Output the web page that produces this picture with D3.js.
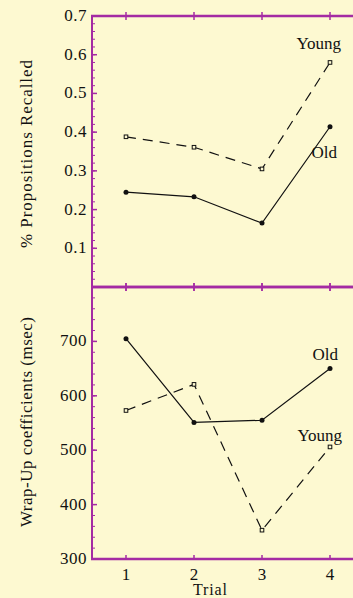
<!DOCTYPE html>
<html>
<head>
<meta charset="utf-8">
<script src="https://cdn.jsdelivr.net/npm/d3@7"></script>
<style>
  body { margin: 0; background: #fdf9d1; }
  svg { display: block; }
  text { font-family: "Liberation Serif", "Times New Roman", serif; fill: #111; }
</style>
</head>
<body>
<script>
  // data
  const trials = [1, 2, 3, 4];
  const recallYoung = [0.388, 0.361, 0.305, 0.58];
  const recallOld = [0.245, 0.233, 0.165, 0.414];
  const wrapOld = [705, 551, 555, 650];
  const wrapYoung = [573, 621, 353, 506];
  const recallTicks = [0.1, 0.2, 0.3, 0.4, 0.5, 0.6, 0.7];
  const wrapTicks = [300, 400, 500, 600, 700];

  const width = 353, height = 598;
  const purple = "#a42ba3";

  const svg = d3.select("body").append("svg")
    .attr("width", width)
    .attr("height", height);

  svg.append("rect").attr("width", width).attr("height", height).attr("fill", "#fdf9d1");

  const x = d3.scaleLinear().domain([0.5, 4.5]).range([92, 364]);
  const yTop = d3.scaleLinear().domain([0, 0.7]).range([287, 16]);
  const yBot = d3.scaleLinear().domain([300, 800]).range([559, 287]);

  function drawPanel(y, minorStep, labels, fmt, drawBottomTicks) {
    const [y0, y1] = y.domain();
    const g = svg.append("g");
    // minor ticks on the left axis
    const minors = d3.range(y0, y1 + minorStep / 2, minorStep);
    g.selectAll(".minor").data(minors).enter().append("line")
      .attr("x1", 92).attr("x2", 95)
      .attr("y1", d => y(d)).attr("y2", d => y(d))
      .attr("stroke", purple).attr("stroke-width", 1);
    // major ticks + labels
    g.selectAll(".major").data(labels).enter().append("line")
      .attr("x1", 92).attr("x2", 97)
      .attr("y1", d => y(d)).attr("y2", d => y(d))
      .attr("stroke", purple).attr("stroke-width", 1.5);
    g.selectAll(".lab").data(labels).enter().append("text")
      .attr("x", 87).attr("y", d => y(d) + 5)
      .attr("text-anchor", "end")
      .style("font-size", "17px")
      .style("letter-spacing", "0.5px")
      .text(fmt);
    // x ticks on top and bottom edges
    const yt = y.range()[1], yb = y.range()[0];
    g.selectAll(".xt").data(trials).enter().append("line")
      .attr("x1", d => x(d)).attr("x2", d => x(d))
      .attr("y1", yt - 4).attr("y2", yt + 4)
      .attr("stroke", purple).attr("stroke-width", 1.5);
    g.selectAll(".xb").data(trials).enter().append("line")
      .attr("x1", d => x(d)).attr("x2", d => x(d))
      .attr("y1", yb - 4).attr("y2", yb + (drawBottomTicks ? 4 : 0))
      .attr("stroke", purple).attr("stroke-width", 1.5);
    // frame
    g.append("line").attr("x1", 91).attr("x2", width).attr("y1", yt).attr("y2", yt)
      .attr("stroke", purple).attr("stroke-width", 2.5);
    g.append("line").attr("x1", 91).attr("x2", width).attr("y1", yb).attr("y2", yb)
      .attr("stroke", purple).attr("stroke-width", 2.5);
    g.append("line").attr("x1", 92).attr("x2", 92).attr("y1", yt).attr("y2", yb)
      .attr("stroke", purple).attr("stroke-width", 2);
  }

  drawPanel(yTop, 0.02, recallTicks, d => d.toFixed(1), true);
  drawPanel(yBot, 20, wrapTicks, d => d, false);

  function drawSeries(values, y, dashed) {
    const pts = trials.map((t, i) => [x(t), y(values[i])]);
    svg.append("path")
      .attr("d", d3.line()(pts))
      .attr("fill", "none")
      .attr("stroke", "#111")
      .attr("stroke-width", 1.2)
      .attr("stroke-dasharray", dashed ? "10,7" : null);
    if (dashed) {
      svg.selectAll(null).data(pts).enter().append("rect")
        .attr("x", d => d[0] - 1.8).attr("y", d => d[1] - 1.8)
        .attr("width", 3.6).attr("height", 3.6)
        .attr("fill", "#fdf9d1").attr("stroke", "#111").attr("stroke-width", 1);
    } else {
      svg.selectAll(null).data(pts).enter().append("circle")
        .attr("cx", d => d[0]).attr("cy", d => d[1]).attr("r", 2.5)
        .attr("fill", "#111");
    }
  }

  drawSeries(recallYoung, yTop, true);
  drawSeries(recallOld, yTop, false);
  drawSeries(wrapYoung, yBot, true);
  drawSeries(wrapOld, yBot, false);

  // series labels
  const lab = (t, xx, yy) => svg.append("text").attr("x", xx).attr("y", yy)
    .attr("text-anchor", "end").style("font-size", "17px").text(t);
  lab("Young", x(4) + 11, yTop(recallYoung[3]) - 13);
  lab("Old", x(4) + 7, yTop(recallOld[3]) + 31);
  lab("Old", x(4) + 8, yBot(wrapOld[3]) - 9);
  lab("Young", x(4) + 12, yBot(wrapYoung[3]) - 6);

  // x tick labels
  svg.selectAll(".xl").data(trials).enter().append("text")
    .attr("x", d => x(d)).attr("y", 580)
    .attr("text-anchor", "middle")
    .style("font-size", "17px")
    .text(d => d);

  svg.append("text").attr("x", 210).attr("y", 595)
    .attr("text-anchor", "middle").style("font-size", "16px")
    .attr("textLength", 34).attr("lengthAdjust", "spacing")
    .text("Trial");

  svg.append("text")
    .attr("transform", "translate(32,154) rotate(-90)")
    .attr("text-anchor", "middle").style("font-size", "17px")
    .attr("textLength", 188).attr("lengthAdjust", "spacing")
    .text("% Propositions Recalled");
  svg.append("text")
    .attr("transform", "translate(32,422) rotate(-90)")
    .attr("text-anchor", "middle").style("font-size", "17px")
    .attr("textLength", 210).attr("lengthAdjust", "spacing")
    .text("Wrap-Up coefficients (msec)");
</script>
</body>
</html>
